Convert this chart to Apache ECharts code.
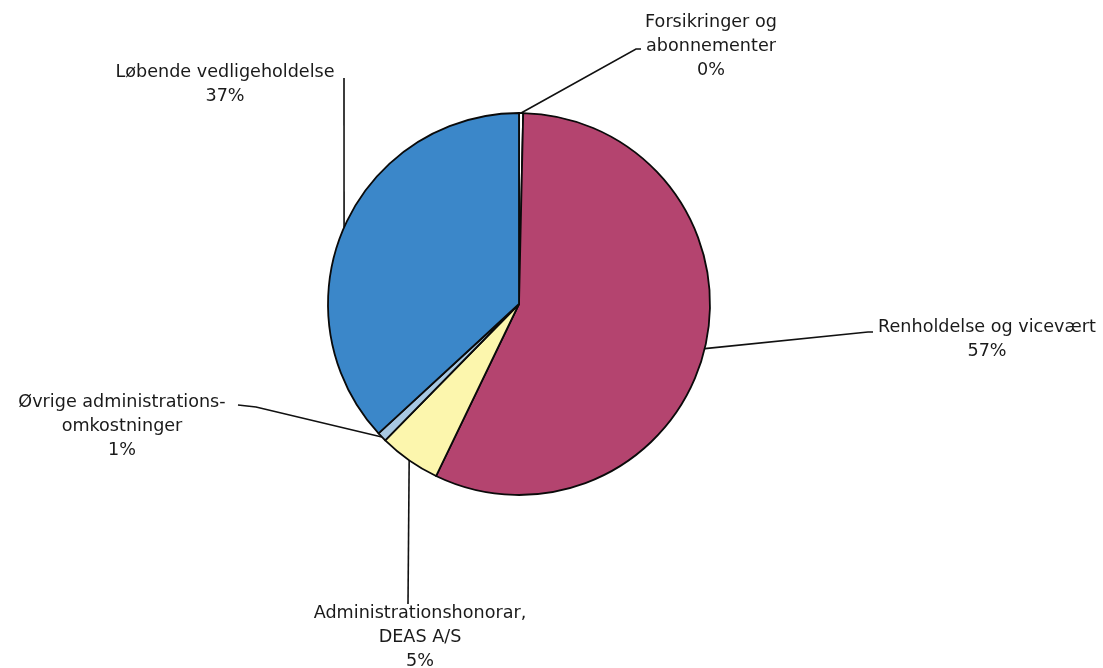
<!DOCTYPE html>
<html>
<head>
<meta charset="utf-8">
<script src="https://cdn.jsdelivr.net/npm/echarts@6/dist/echarts.min.js"></script>
<style>
  html, body { margin: 0; padding: 0; background: #fff; }
  #chart { width: 1103px; height: 668px; }
</style>
</head>
<body>
<div id="chart"></div>
<script>
// slice names, clockwise from 12 o'clock
const categories = [
  'Forsikringer og\nabonnementer',
  'Renholdelse og vicevært',
  'Administrationshonorar,\nDEAS A/S',
  'Øvrige administrations-\nomkostninger',
  'Løbende vedligeholdelse'
];
// shares in percent
const shares = [0.35, 56.8, 5.2, 0.8, 36.85];
const colors = ['#ffffff', '#b4446f', '#fcf6ad', '#a8c8e2', '#3b87c9'];

// where each label sits and how its leader line bends
const labelSpots = [
  { x: 711, y: 46, bend: [[636, 49], [641, 49]] },
  { x: 987, y: 339, bend: [[868, 332], [873, 332]] },
  { x: 420, y: 637, bend: [[408, 604]] },
  { x: 122, y: 426, bend: [[256, 407], [238, 405]] },
  { x: 225, y: 84, bend: [[344, 78]] }
];

const chart = echarts.init(document.getElementById('chart'));

chart.setOption({
  backgroundColor: '#fff',
  animation: false,
  textStyle: { fontFamily: 'DejaVu Sans' },
  series: [{
    type: 'pie',
    center: [519, 304],
    radius: 191,
    startAngle: 90,
    clockwise: true,
    avoidLabelOverlap: false,
    data: categories.map((name, i) => ({
      name,
      value: shares[i],
      itemStyle: { color: colors[i] }
    })),
    itemStyle: { borderColor: '#0a0a0a', borderWidth: 1.8 },
    label: {
      show: true,
      formatter: p => `${p.name}\n${Math.round(p.percent)}%`,
      fontFamily: 'DejaVu Sans',
      fontSize: 17.6,
      lineHeight: 24,
      color: '#1a1a1a',
      align: 'center'
    },
    labelLine: {
      show: true,
      lineStyle: { color: '#111', width: 1.6 }
    },
    labelLayout: params => {
      const spot = labelSpots[params.dataIndex];
      const start = params.labelLinePoints ? params.labelLinePoints[0] : spot.bend[0];
      return {
        x: spot.x,
        y: spot.y,
        align: 'center',
        verticalAlign: 'middle',
        labelLinePoints: [start].concat(spot.bend)
      };
    },
    emphasis: { disabled: true }
  }]
});
</script>
</body>
</html>
